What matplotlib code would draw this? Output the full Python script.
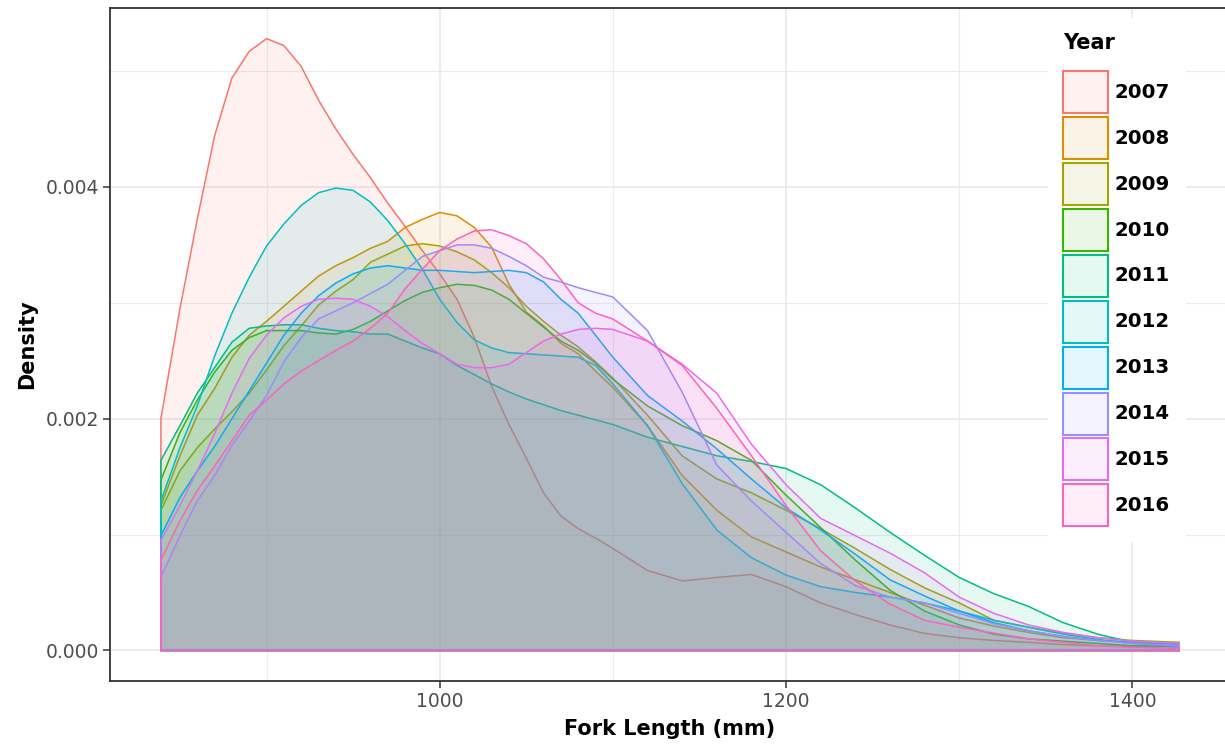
"""
Density of fork length by year, ggplot-like look in matplotlib.
"""

import numpy as np
import matplotlib
matplotlib.use('Agg')
import matplotlib.pyplot as plt
from matplotlib.patches import Patch
from matplotlib.colors import to_rgba

# ============================================================================
# Data, density values in units of 1e-3
# ============================================================================

fork_length = [839, 850, 860, 870, 880, 890, 900, 910, 920, 930,
               940, 950, 960, 970, 980, 990, 1000, 1010, 1020, 1030,
               1040, 1050, 1060, 1070, 1080, 1090, 1100, 1120, 1140, 1160,
               1180, 1200, 1220, 1240, 1260, 1280, 1300, 1320, 1340, 1360,
               1380, 1400, 1427]

years = ['2007', '2008', '2009', '2010', '2011',
         '2012', '2013', '2014', '2015', '2016']

d2007 = [2.00, 2.95, 3.72, 4.44, 4.94, 5.17, 5.28, 5.22, 5.04, 4.75,
         4.50, 4.28, 4.08, 3.86, 3.66, 3.45, 3.25, 3.03, 2.70, 2.28,
         1.95, 1.66, 1.36, 1.16, 1.05, 0.97, 0.88, 0.69, 0.60, 0.63,
         0.655, 0.55, 0.41, 0.31, 0.22, 0.147, 0.11, 0.086, 0.07, 0.05,
         0.04, 0.035, 0.03]
d2008 = [1.25, 1.68, 2.03, 2.26, 2.53, 2.72, 2.84, 2.97, 3.10, 3.23,
         3.32, 3.39, 3.47, 3.53, 3.65, 3.72, 3.78, 3.75, 3.65, 3.48,
         3.16, 2.92, 2.80, 2.65, 2.56, 2.41, 2.27, 1.94, 1.51, 1.21,
         0.98, 0.85, 0.72, 0.61, 0.50, 0.39, 0.28, 0.21, 0.155, 0.11,
         0.086, 0.07, 0.06]
d2009 = [1.21, 1.55, 1.75, 1.91, 2.06, 2.22, 2.42, 2.63, 2.80, 2.98,
         3.10, 3.20, 3.35, 3.42, 3.49, 3.51, 3.49, 3.44, 3.37, 3.26,
         3.13, 2.97, 2.84, 2.72, 2.62, 2.49, 2.35, 2.03, 1.68, 1.48,
         1.36, 1.21, 1.05, 0.88, 0.70, 0.54, 0.41, 0.26, 0.20, 0.15,
         0.11, 0.086, 0.07]
d2010 = [1.47, 1.88, 2.16, 2.40, 2.59, 2.70, 2.76, 2.76, 2.76, 2.74,
         2.73, 2.77, 2.84, 2.93, 3.02, 3.09, 3.13, 3.16, 3.15, 3.11,
         3.03, 2.91, 2.79, 2.67, 2.59, 2.48, 2.34, 2.11, 1.94, 1.81,
         1.64, 1.34, 1.06, 0.78, 0.52, 0.34, 0.22, 0.14, 0.10, 0.08,
         0.06, 0.04, 0.035]
d2011 = [1.64, 1.94, 2.22, 2.44, 2.66, 2.78, 2.80, 2.81, 2.81, 2.78,
         2.76, 2.75, 2.73, 2.73, 2.67, 2.61, 2.56, 2.46, 2.38, 2.30,
         2.23, 2.17, 2.12, 2.07, 2.03, 1.99, 1.95, 1.84, 1.76, 1.68,
         1.63, 1.57, 1.43, 1.23, 1.02, 0.82, 0.63, 0.49, 0.38, 0.24,
         0.14, 0.07, 0.06]
d2012 = [1.29, 1.75, 2.11, 2.54, 2.91, 3.22, 3.49, 3.68, 3.84, 3.95,
         3.99, 3.97, 3.87, 3.71, 3.51, 3.29, 3.03, 2.83, 2.68, 2.61,
         2.57, 2.56, 2.55, 2.54, 2.53, 2.46, 2.30, 1.94, 1.44, 1.04,
         0.80, 0.65, 0.55, 0.50, 0.46, 0.41, 0.34, 0.26, 0.20, 0.14,
         0.095, 0.06, 0.035]
d2013 = [0.99, 1.32, 1.55, 1.76, 2.00, 2.24, 2.48, 2.72, 2.91, 3.06,
         3.17, 3.25, 3.30, 3.32, 3.30, 3.28, 3.28, 3.27, 3.26, 3.27,
         3.28, 3.26, 3.18, 3.03, 2.91, 2.72, 2.53, 2.20, 1.98, 1.74,
         1.48, 1.23, 1.04, 0.83, 0.61, 0.47, 0.34, 0.24, 0.17, 0.12,
         0.086, 0.07, 0.05]
d2014 = [0.63, 0.99, 1.29, 1.51, 1.77, 1.98, 2.20, 2.49, 2.70, 2.86,
         2.93, 3.00, 3.08, 3.16, 3.28, 3.40, 3.45, 3.50, 3.50, 3.47,
         3.40, 3.32, 3.22, 3.18, 3.13, 3.09, 3.05, 2.76, 2.23, 1.60,
         1.29, 1.02, 0.75, 0.56, 0.46, 0.41, 0.32, 0.23, 0.17, 0.12,
         0.086, 0.06, 0.04]
d2015 = [0.95, 1.25, 1.55, 1.87, 2.22, 2.52, 2.72, 2.87, 2.97, 3.03,
         3.04, 3.03, 2.97, 2.88, 2.76, 2.65, 2.56, 2.47, 2.44, 2.44,
         2.47, 2.57, 2.67, 2.73, 2.77, 2.78, 2.77, 2.67, 2.47, 2.22,
         1.78, 1.43, 1.14, 0.99, 0.84, 0.67, 0.46, 0.32, 0.22, 0.155,
         0.11, 0.08, 0.06]
d2016 = [0.78, 1.12, 1.38, 1.59, 1.81, 2.03, 2.16, 2.30, 2.41, 2.50,
         2.59, 2.67, 2.78, 2.91, 3.12, 3.29, 3.45, 3.55, 3.62, 3.63,
         3.58, 3.51, 3.38, 3.20, 3.00, 2.91, 2.86, 2.67, 2.46, 2.09,
         1.68, 1.25, 0.86, 0.60, 0.40, 0.26, 0.20, 0.15, 0.10, 0.07,
         0.04, 0.026, 0.017]

densities = [d2007, d2008, d2009, d2010, d2011,
             d2012, d2013, d2014, d2015, d2016]

# ggplot default hue palette for 10 groups
colors = ['#F8766D', '#D89000', '#A3A500', '#39B600', '#00BF7D',
          '#00BFC4', '#00B0F6', '#9590FF', '#E76BF3', '#FF62BC']

# ============================================================================
# Plotting
# ============================================================================

plt.rcParams['font.family'] = ['DejaVu Sans']

fig = plt.figure(figsize=(12.25, 7.54), dpi=100)
ax = fig.add_axes([110 / 1225, 1 - 681 / 754, 1120 / 1225, 673 / 754])

x = np.array(fork_length, dtype=float)
ymax = 0
for yr, dens, c in zip(years, densities, colors):
    y = np.array(dens) * 1e-3
    ymax = max(ymax, y.max())
    # closed polygon like geom_density's full outline
    px = np.concatenate([[x[0]], x, [x[-1]]])
    py = np.concatenate([[0], y, [0]])
    ax.fill(px, py, facecolor=to_rgba(c, 0.1), edgecolor=c, lw=1.1)

# 5% expansion like ggplot
xpad = 0.05 * (x.max() - x.min())
ax.set_xlim(x.min() - xpad, x.max() + xpad)
ax.set_ylim(-0.05 * ymax, ymax * 1.05)

ax.set_xticks([1000, 1200, 1400])
ax.set_xticks([900, 1100, 1300], minor=True)
ax.set_yticks([0, 0.002, 0.004])
ax.set_yticklabels(['0.000', '0.002', '0.004'])
ax.set_yticks([0.001, 0.003, 0.005], minor=True)

ax.grid(which='major', color='#EBEBEB', lw=1.3)
ax.grid(which='minor', color='#EBEBEB', lw=0.8)
ax.set_axisbelow(True)

for s in ax.spines.values():
    s.set_color('#333333')
    s.set_linewidth(1.3)
ax.tick_params(which='major', length=5, width=1.1, color='#333333',
               labelcolor='#4D4D4D', labelsize=13.5, pad=3)
ax.tick_params(which='minor', length=0)

ax.set_xlabel('Fork Length (mm)', fontsize=15, fontweight='bold', labelpad=6)
ax.set_ylabel('Density', fontsize=15, fontweight='bold', labelpad=6)

# legend
handles = [Patch(facecolor=to_rgba(c, 0.1), edgecolor=c, lw=1.5, label=yr)
           for yr, c in zip(years, colors)]
leg = ax.legend(handles=handles, title='Year', loc='upper left',
                bbox_to_anchor=(1048 / 1225, 1 - 18 / 754),
                bbox_transform=fig.transFigure, frameon=True, fancybox=False,
                framealpha=1, edgecolor='white', facecolor='white',
                borderpad=0.75, handlelength=2.28, handleheight=2.9,
                labelspacing=0.2, handletextpad=0.36, borderaxespad=0,
                prop=dict(weight='bold', size=14.2),
                title_fontproperties=dict(weight='bold', size=15),
                alignment='left')
leg._legend_box.sep = 13

fig.savefig('out.png', dpi=100)
